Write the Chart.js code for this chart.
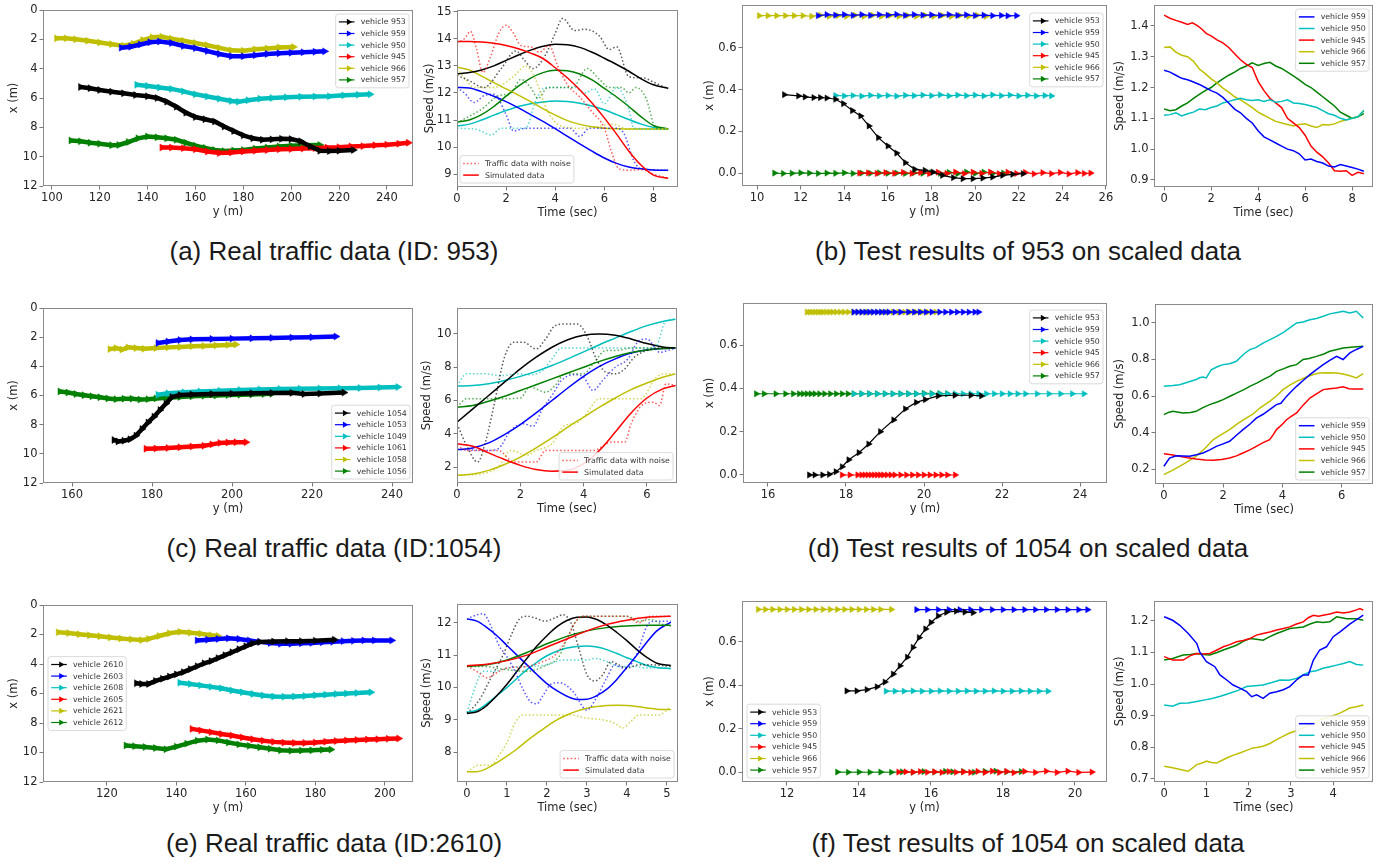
<!DOCTYPE html>
<html>
<head>
<meta charset="utf-8">
<script src="https://cdn.jsdelivr.net/npm/chart.js@4.4.1/dist/chart.umd.min.js"></script>
<style>
body { margin: 0; background: #fff; width: 1382px; height: 863px; position: relative; overflow: hidden; }
canvas { position: absolute; }
.cap { position: absolute; font: 26px "Liberation Sans", Arial, sans-serif; color: #1a1a1a; white-space: nowrap; transform: translateX(-50%); line-height: 30px; }
</style>
</head>
<body>
<div class="cap" style="left:334px;top:236px">(a) Real traffic data (ID: 953)</div>
<div class="cap" style="left:1028px;top:236px">(b) Test results of 953 on scaled data</div>
<div class="cap" style="left:334px;top:533px">(c) Real traffic data (ID:1054)</div>
<div class="cap" style="left:1028px;top:533px">(d) Test results of 1054 on scaled data</div>
<div class="cap" style="left:334px;top:828px">(e) Real traffic data (ID:2610)</div>
<div class="cap" style="left:1028px;top:828px">(f) Test results of 1054 on scaled data</div>
<script>
// ---- (a) trajectories, [y, x]
const trA953 = [[112,5.25],[116,5.33],[120,5.45],[125,5.57],[130,5.68],[135,5.8],[140,5.88],[144,6.0],[148,6.25],[152,6.6],[156,7.0],[160,7.3],[164,7.45],[168,7.6],[172,7.95],[176,8.25],[180,8.55],[184,8.75],[188,8.85],[192,8.82],[196,8.78],[200,8.8],[204,8.95],[208,9.3],[212,9.6],[216,9.62],[220,9.6],[226,9.55]];
const trA959 = [[129,2.57],[133,2.5],[137,2.35],[141,2.2],[145,2.15],[150,2.25],[155,2.45],[160,2.6],[165,2.8],[170,3.0],[175,3.15],[180,3.15],[185,3.08],[190,3.0],[195,2.95],[200,2.92],[205,2.88],[210,2.85],[214,2.82]];
const trA950 = [[135.5,5.1],[140,5.18],[145,5.28],[150,5.38],[155,5.55],[160,5.75],[165,5.9],[170,6.05],[175,6.2],[178,6.25],[182,6.15],[187,6.05],[192,6.0],[198,5.95],[204,5.92],[210,5.9],[216,5.88],[222,5.82],[228,5.78],[233,5.75]];
const trA945 = [[146,9.38],[150,9.38],[155,9.42],[160,9.5],[165,9.65],[170,9.75],[175,9.72],[180,9.65],[185,9.6],[190,9.55],[195,9.5],[200,9.48],[205,9.45],[210,9.42],[215,9.38],[220,9.35],[225,9.3],[230,9.28],[235,9.22],[240,9.18],[245,9.12],[249,9.05]];
const trA966 = [[102,1.93],[106,1.93],[110,2.0],[115,2.1],[120,2.22],[125,2.33],[130,2.43],[134,2.3],[138,2.05],[142,1.85],[146,1.82],[150,1.95],[155,2.1],[160,2.25],[165,2.4],[170,2.58],[175,2.75],[180,2.78],[185,2.68],[190,2.62],[195,2.55],[201,2.52]];
const trA957 = [[108,8.9],[112,8.95],[116,9.05],[120,9.12],[125,9.22],[128,9.2],[132,9.0],[136,8.75],[140,8.62],[144,8.68],[148,8.75],[152,8.85],[156,9.05],[160,9.25],[164,9.4],[168,9.55],[172,9.62],[176,9.58],[180,9.55],[185,9.45],[190,9.38],[195,9.3],[200,9.25],[205,9.22],[212,9.2]];

// ---- (a) speed, [t, v]
const simA_k = [[0,12.7],[0.5,12.75],[1,12.85],[1.5,13.0],[2,13.2],[2.5,13.4],[3,13.58],[3.5,13.72],[4,13.8],[4.5,13.78],[5,13.68],[5.5,13.5],[6,13.28],[6.5,13.05],[7,12.8],[7.5,12.52],[8,12.3],[8.6,12.17]];
const simA_r = [[0,13.9],[0.5,13.9],[1,13.88],[1.5,13.83],[2,13.75],[2.5,13.63],[3,13.47],[3.5,13.27],[4,12.93],[4.5,12.55],[5,12.12],[5.5,11.63],[6,11.08],[6.5,10.48],[7,9.85],[7.5,9.33],[8,8.97],[8.6,8.85]];
const simA_y = [[0,12.95],[0.5,12.85],[1,12.62],[1.5,12.38],[2,12.15],[2.5,11.92],[3,11.68],[3.5,11.42],[4,11.18],[4.5,10.98],[5,10.84],[5.5,10.75],[6,10.7],[6.5,10.68],[7,10.67],[8.6,10.67]];
const simA_g = [[0,10.92],[0.5,11.0],[1,11.2],[1.5,11.5],[2,11.88],[2.5,12.25],[3,12.55],[3.5,12.75],[4,12.84],[4.5,12.82],[5,12.7],[5.5,12.48],[6,12.17],[6.5,11.85],[7,11.5],[7.5,11.12],[8,10.8],[8.6,10.67]];
const simA_b = [[0,12.2],[0.5,12.18],[1,12.05],[1.5,11.88],[2,11.68],[2.5,11.45],[3,11.2],[3.5,10.95],[4,10.68],[4.5,10.4],[5,10.12],[5.5,9.85],[6,9.6],[6.5,9.4],[7,9.27],[7.5,9.2],[8,9.16],[8.6,9.15]];
const simA_c = [[0,10.78],[0.5,10.85],[1,11.0],[1.5,11.18],[2,11.35],[2.5,11.5],[3,11.6],[3.5,11.67],[4,11.7],[4.5,11.68],[5,11.62],[5.5,11.52],[6,11.38],[6.5,11.2],[7,11.02],[7.5,10.85],[8,10.73],[8.6,10.67]];
const noiseA_r = [[0,13.85],[0.3,14.0],[0.55,14.27],[0.8,13.6],[1.05,12.75],[1.35,13.3],[1.7,14.2],[2.0,14.5],[2.3,14.2],[2.6,13.75],[3.0,13.7],[3.35,13.5],[3.75,13.75],[4.1,13.0],[4.5,12.3],[5.0,11.85],[5.5,11.3],[6.0,10.7],[6.3,9.8],[6.6,9.2],[7.0,9.15],[7.5,9.17],[8.0,9.0],[8.6,8.85]];
const noiseA_k = [[0,12.65],[0.5,12.45],[1.1,12.2],[1.8,12.9],[2.4,13.55],[2.75,13.2],[3.1,12.9],[3.6,13.4],[4.0,14.2],[4.3,14.75],[4.8,14.3],[5.2,14.35],[5.8,14.1],[6.2,13.6],[6.5,13.7],[7.0,12.6],[7.6,12.55],[8.0,12.4],[8.6,12.15]];
const noiseA_y = [[0,12.9],[0.35,12.5],[0.7,12.2],[1.5,12.2],[2.3,12.6],[2.8,13.0],[3.2,12.5],[3.7,11.3],[4.2,10.8],[5.0,10.7],[5.7,10.75],[6.3,10.85],[7.0,10.67],[8.6,10.67]];
const noiseA_g = [[0,10.9],[1.0,11.4],[1.7,11.9],[2.2,12.0],[2.6,12.5],[3.0,12.2],[3.3,11.8],[3.7,12.2],[4.7,12.2],[5.3,12.9],[5.8,12.5],[6.2,12.2],[6.7,12.2],[7.0,12.0],[7.3,12.2],[7.7,11.8],[8.1,10.7],[8.6,10.67]];
const noiseA_b = [[0,12.2],[0.3,12.0],[0.7,11.65],[1.1,11.9],[1.5,11.95],[2.0,11.2],[2.3,10.6],[2.8,10.7],[4.6,10.7],[5.0,10.4],[5.4,10.7],[6.5,10.7],[6.8,10.5],[7.2,9.5],[7.5,9.2],[8.6,9.15]];
const noiseA_c = [[0,10.7],[0.8,10.65],[1.4,10.45],[1.8,10.7],[2.8,10.7],[3.2,11.7],[3.6,12.2],[4.8,12.2],[5.2,12.0],[5.6,12.15],[6.0,11.6],[6.5,12.2],[7.0,11.4],[7.2,10.7],[8.6,10.67]];

// ---- (b) trajectories
const trB953 = [[11.25,0.376],[11.9,0.37],[12.2,0.365],[12.6,0.362],[12.9,0.362],[13.2,0.36],[13.6,0.354],[13.96,0.333],[14.37,0.3],[14.75,0.274],[15.13,0.226],[15.56,0.17],[16.0,0.13],[16.4,0.096],[16.8,0.05],[17.23,0.018],[17.7,0.013],[18.07,0.005],[18.5,-0.011],[19.0,-0.022],[19.44,-0.027],[19.9,-0.027],[20.35,-0.024],[20.8,-0.019],[21.26,-0.011],[21.72,-0.006],[22.2,-0.003]];
const trB959 = [[12.8,0.755],[13.2,0.76],[13.6,0.757],[14.0,0.76],[14.4,0.756],[14.8,0.76],[15.2,0.756],[15.6,0.76],[16.0,0.757],[16.4,0.761],[16.8,0.756],[17.2,0.76],[17.6,0.757],[18.0,0.759],[18.4,0.756],[18.8,0.76],[19.2,0.756],[19.6,0.759],[20.0,0.755],[20.4,0.757],[20.8,0.755],[21.2,0.756],[21.5,0.754],[21.9,0.755]];
const trB950 = [[13.6,0.372],[14.0,0.37],[14.4,0.372],[14.8,0.369],[15.2,0.373],[15.6,0.37],[16.0,0.372],[16.4,0.369],[16.8,0.373],[17.2,0.371],[17.6,0.374],[18.0,0.371],[18.4,0.375],[18.8,0.37],[19.2,0.374],[19.6,0.371],[20.0,0.374],[20.4,0.37],[20.8,0.375],[21.2,0.371],[21.6,0.374],[22.0,0.37],[22.4,0.373],[22.8,0.37],[23.2,0.372],[23.5,0.37]];
const trB945 = [[14.7,0.0],[15.1,0.001],[15.5,-0.002],[15.9,0.002],[16.3,-0.001],[16.7,0.003],[17.1,-0.002],[17.5,0.003],[17.9,-0.003],[18.3,0.004],[18.7,-0.002],[19.1,0.005],[19.5,-0.003],[19.9,0.004],[20.3,-0.002],[20.7,0.005],[21.1,-0.003],[21.5,0.004],[21.9,-0.002],[22.3,0.003],[22.7,-0.004],[23.1,0.002],[23.5,-0.003],[23.9,0.003],[24.3,-0.004],[24.7,0.002],[25.0,-0.002],[25.3,0.0]];
const trB966 = [[10.1,0.755],[10.5,0.755],[10.9,0.755],[11.3,0.755],[11.7,0.755],[12.1,0.755],[12.5,0.752],[12.9,0.757],[13.3,0.752],[13.7,0.755],[14.1,0.752],[14.5,0.757],[14.9,0.752],[15.3,0.757],[15.7,0.752],[16.1,0.756],[16.5,0.752],[16.9,0.756],[17.3,0.752],[17.7,0.757],[18.1,0.752],[18.5,0.756],[18.9,0.751],[19.3,0.756],[19.7,0.752],[20.1,0.757],[20.5,0.752]];
const trB957 = [[10.8,0.0],[11.2,-0.002],[11.6,-0.001],[12.0,0.001],[12.4,0.0],[12.8,-0.002],[13.2,0.0],[13.6,-0.001],[14.0,0.001],[14.4,-0.002],[14.8,0.0],[15.2,-0.001],[15.6,0.001],[16.0,-0.001],[16.4,0.0],[16.8,-0.002],[17.2,0.001],[17.6,-0.001],[18.0,0.002],[18.4,-0.002],[18.8,0.003],[19.2,-0.003],[19.6,0.005],[20.0,-0.002],[20.4,0.004],[20.8,-0.002],[21.3,0.0]];

// ---- (b) speed
const spB959 = [[0,1.256],[0.25,1.25],[0.5,1.24],[0.75,1.23],[1.0,1.225],[1.25,1.218],[1.5,1.21],[1.75,1.2],[2.0,1.19],[2.25,1.182],[2.5,1.168],[2.75,1.15],[3.0,1.13],[3.25,1.118],[3.5,1.1],[3.75,1.085],[4.0,1.06],[4.25,1.04],[4.5,1.03],[4.75,1.02],[5.0,1.01],[5.25,1.0],[5.5,0.995],[5.75,0.985],[6.0,0.965],[6.25,0.968],[6.5,0.96],[6.75,0.955],[7.0,0.945],[7.25,0.942],[7.5,0.95],[7.75,0.945],[8.0,0.94],[8.25,0.935],[8.5,0.928]];
const spB950 = [[0,1.11],[0.25,1.112],[0.5,1.118],[0.75,1.108],[1.0,1.115],[1.25,1.12],[1.5,1.13],[1.75,1.128],[2.0,1.135],[2.25,1.14],[2.5,1.15],[2.75,1.155],[3.0,1.16],[3.25,1.165],[3.5,1.16],[3.75,1.158],[4.0,1.16],[4.25,1.155],[4.5,1.16],[4.75,1.152],[5.0,1.155],[5.25,1.16],[5.5,1.15],[5.75,1.148],[6.0,1.145],[6.25,1.14],[6.5,1.135],[6.75,1.125],[7.0,1.115],[7.25,1.11],[7.5,1.1],[7.75,1.095],[8.0,1.1],[8.25,1.105],[8.5,1.125]];
const spB945 = [[0,1.435],[0.25,1.425],[0.5,1.418],[0.75,1.412],[1.0,1.405],[1.2,1.41],[1.4,1.402],[1.6,1.39],[1.8,1.375],[2.0,1.368],[2.25,1.355],[2.5,1.345],[2.75,1.33],[3.0,1.31],[3.25,1.29],[3.5,1.275],[3.75,1.265],[4.0,1.22],[4.25,1.19],[4.5,1.165],[4.75,1.15],[5.0,1.135],[5.25,1.1],[5.5,1.085],[5.75,1.07],[6.0,1.045],[6.25,1.01],[6.5,0.99],[6.75,0.975],[7.0,0.955],[7.25,0.93],[7.5,0.928],[7.75,0.93],[8.0,0.915],[8.25,0.925],[8.5,0.92]];
const spB966 = [[0,1.33],[0.25,1.332],[0.5,1.315],[0.75,1.305],[1.0,1.3],[1.25,1.285],[1.5,1.26],[1.75,1.245],[2.0,1.228],[2.25,1.215],[2.5,1.198],[2.75,1.185],[3.0,1.17],[3.25,1.16],[3.5,1.148],[3.75,1.135],[4.0,1.12],[4.25,1.11],[4.5,1.1],[4.75,1.09],[5.0,1.085],[5.25,1.08],[5.5,1.075],[5.75,1.08],[6.0,1.082],[6.25,1.075],[6.5,1.07],[6.75,1.08],[7.0,1.078],[7.25,1.082],[7.5,1.09],[7.75,1.095],[8.0,1.1],[8.25,1.105],[8.5,1.125]];
const spB957 = [[0,1.13],[0.25,1.125],[0.5,1.128],[0.75,1.14],[1.0,1.15],[1.25,1.165],[1.5,1.178],[1.75,1.19],[2.0,1.2],[2.25,1.215],[2.5,1.228],[2.75,1.24],[3.0,1.25],[3.25,1.262],[3.5,1.27],[3.75,1.28],[4.0,1.272],[4.25,1.278],[4.5,1.282],[4.75,1.27],[5.0,1.262],[5.25,1.25],[5.5,1.238],[5.75,1.225],[6.0,1.21],[6.25,1.2],[6.5,1.185],[6.75,1.17],[7.0,1.155],[7.25,1.14],[7.5,1.12],[7.75,1.11],[8.0,1.1],[8.25,1.105],[8.5,1.115]];

// ---- (c) trajectories
const trC1054 = [[170.5,9.05],[171.5,9.15],[173,9.1],[174.5,9.0],[176,8.75],[177.5,8.3],[179,7.85],[180.5,7.45],[182,7.0],[183.5,6.55],[185,6.1],[187,5.97],[190,5.93],[195,5.9],[200,5.88],[205,5.85],[210,5.83],[215,5.82],[218,5.9],[222,5.87],[228,5.8]];
const trC1053 = [[181.5,2.4],[184,2.3],[187,2.2],[190,2.15],[195,2.12],[200,2.1],[205,2.08],[210,2.05],[215,2.03],[220,2.0],[226,1.95]];
const trC1049 = [[181.5,5.95],[184,5.85],[188,5.78],[192,5.72],[197,5.68],[202,5.62],[207,5.58],[212,5.55],[217,5.53],[222,5.52],[227,5.5],[232,5.48],[237,5.45],[241.5,5.42]];
const trC1061 = [[178.5,9.65],[181,9.63],[184,9.6],[187,9.55],[190,9.5],[193,9.45],[195,9.35],[197,9.25],[199,9.22],[201,9.2],[203.5,9.2]];
const trC1058 = [[169.5,2.82],[171,2.75],[172.5,2.85],[174,2.7],[176,2.75],[178,2.8],[181,2.75],[184,2.7],[187,2.68],[190,2.62],[193,2.6],[196,2.57],[199,2.53],[201,2.5]];
const trC1056 = [[157,5.72],[159,5.8],[161,5.9],[163,5.98],[165,6.05],[167,6.12],[169,6.2],[171,6.25],[173,6.22],[175,6.22],[177,6.28],[179,6.25],[181,6.2],[184,6.15],[187,6.1],[190,6.06],[193,6.02],[196,6.0],[199,5.97],[202,5.95],[205,5.93],[208,5.9],[210,5.88]];

// ---- (c) speed
const simC_k = [[0,4.7],[0.5,5.5],[1,6.3],[1.5,7.1],[2,7.9],[2.5,8.6],[3,9.2],[3.5,9.65],[4,9.92],[4.5,10.0],[5,9.92],[5.5,9.7],[6,9.42],[6.5,9.22],[6.9,9.15]];
const simC_r = [[0,3.4],[0.5,3.25],[1,2.85],[1.5,2.45],[2,2.1],[2.5,1.85],[3,1.75],[3.5,1.8],[4,2.2],[4.5,3.0],[5,4.1],[5.5,5.25],[6,6.15],[6.5,6.7],[6.9,6.9]];
const simC_y = [[0,1.5],[0.5,1.58],[1,1.8],[1.5,2.15],[2,2.6],[2.5,3.15],[3,3.75],[3.5,4.4],[4,5.0],[4.5,5.6],[5,6.15],[5.5,6.65],[6,7.05],[6.5,7.4],[6.9,7.6]];
const simC_g = [[0,5.6],[0.5,5.7],[1,5.95],[1.5,6.25],[2,6.6],[2.5,6.95],[3,7.3],[3.5,7.65],[4,8.0],[4.5,8.35],[5,8.65],[5.5,8.88],[6,9.03],[6.5,9.12],[6.9,9.15]];
const simC_b = [[0,3.05],[0.5,3.15],[1,3.45],[1.5,3.95],[2,4.55],[2.5,5.25],[3,6.0],[3.5,6.75],[4,7.45],[4.5,8.05],[5,8.5],[5.5,8.85],[6,9.05],[6.5,9.13],[6.9,9.15]];
const simC_c = [[0,6.87],[0.5,6.9],[1,7.0],[1.5,7.2],[2,7.45],[2.5,7.75],[3,8.1],[3.5,8.5],[4,8.92],[4.5,9.35],[5,9.75],[5.5,10.15],[6,10.5],[6.5,10.75],[6.9,10.88]];
const noiseC_r = [[0,3.3],[0.3,3.0],[1.3,3.0],[1.8,2.3],[2.5,2.3],[2.8,3.0],[4.3,3.0],[4.9,3.5],[5.3,3.5],[5.5,4.6],[5.9,5.8],[6.2,5.9],[6.4,5.7],[6.6,7.0],[6.9,6.9]];
const noiseC_k = [[0,4.6],[0.3,3.3],[0.65,2.3],[0.9,3.5],[1.2,6.0],[1.5,8.6],[1.8,9.5],[2.1,9.5],[2.5,9.1],[2.8,9.7],[3.1,10.5],[3.5,10.6],[3.8,10.6],[4.1,9.9],[4.4,8.5],[4.7,7.7],[5.0,7.6],[5.3,7.9],[5.6,8.6],[6.0,9.0],[6.5,9.15],[6.9,9.15]];
const noiseC_y = [[0,1.5],[0.8,1.6],[1.3,2.0],[1.7,3.0],[2.2,2.7],[2.5,3.0],[3.0,3.4],[3.4,4.5],[3.7,4.6],[4.0,5.0],[4.5,6.1],[5.0,6.1],[5.8,6.1],[6.3,7.4],[6.6,7.6],[6.9,7.6]];
const noiseC_g = [[0,5.6],[0.3,6.1],[1.3,6.1],[2.0,6.15],[2.3,6.8],[2.8,6.5],[3.1,6.9],[3.4,7.6],[4.0,7.6],[4.3,8.2],[4.7,9.0],[5.0,9.0],[5.5,9.15],[6.9,9.15]];
const noiseC_b = [[0,3.05],[1.0,3.0],[1.3,3.1],[1.7,4.2],[2.1,4.6],[2.4,4.45],[2.7,5.5],[3.0,6.3],[3.3,7.2],[3.7,7.55],[4.0,7.4],[4.3,6.6],[4.6,7.2],[5.0,8.0],[5.4,8.5],[5.7,9.5],[6.0,9.7],[6.4,8.9],[6.9,9.15]];
const noiseC_c = [[0,6.87],[0.3,7.6],[0.9,7.6],[1.4,7.5],[1.9,7.6],[2.3,7.55],[2.7,7.8],[3.0,8.5],[3.3,9.15],[6.0,9.15],[6.3,9.3],[6.6,10.8],[6.9,10.88]];

// ---- (d) trajectories
const trD953 = [[17.06,0.0],[17.2,0.0],[17.4,0.0],[17.57,0.003],[17.74,0.015],[17.9,0.038],[18.07,0.07],[18.33,0.103],[18.58,0.143],[18.88,0.2],[19.22,0.254],[19.52,0.305],[19.8,0.335],[20.03,0.348],[20.36,0.365],[20.79,0.368],[21.2,0.368],[21.47,0.365]];
const trD959 = [[18.2,0.752],[18.3,0.752],[18.4,0.752],[18.5,0.752],[18.6,0.752],[18.7,0.752],[18.8,0.752],[18.9,0.752],[19.0,0.752],[19.1,0.752],[19.25,0.752],[19.4,0.752],[19.6,0.752],[19.75,0.752],[19.9,0.752],[20.05,0.752],[20.2,0.752],[20.4,0.752],[20.55,0.752],[20.7,0.752],[20.85,0.752],[21.0,0.752],[21.15,0.752],[21.3,0.752],[21.4,0.752]];
const trD950 = [[18.2,0.375],[18.4,0.375],[18.6,0.375],[18.8,0.375],[19.0,0.375],[19.2,0.375],[19.4,0.375],[19.6,0.375],[19.8,0.375],[20.0,0.375],[20.2,0.375],[20.4,0.375],[20.6,0.375],[20.8,0.375],[21.0,0.375],[21.2,0.375],[21.4,0.375],[21.6,0.375],[21.8,0.375],[22.0,0.375],[22.2,0.375],[22.4,0.375],[22.6,0.375],[22.9,0.375],[23.2,0.375],[23.5,0.375],[23.8,0.375],[24.1,0.375]];
const trD945 = [[17.9,0.0],[18.1,0.0],[18.3,0.0],[18.4,0.0],[18.48,0.0],[18.56,0.0],[18.64,0.0],[18.72,0.0],[18.8,0.0],[18.88,0.0],[18.96,0.0],[19.05,0.0],[19.15,0.0],[19.25,0.0],[19.4,0.0],[19.55,0.0],[19.7,0.0],[19.85,0.0],[20.0,0.0],[20.15,0.0],[20.3,0.0],[20.45,0.0],[20.6,0.0],[20.8,0.0]];
const trD966 = [[17.0,0.752],[17.07,0.752],[17.14,0.752],[17.21,0.752],[17.28,0.752],[17.35,0.752],[17.42,0.752],[17.5,0.752],[17.58,0.752],[17.66,0.752],[17.75,0.752],[17.85,0.752],[17.95,0.752],[18.06,0.752],[18.18,0.752],[18.3,0.752],[18.42,0.752],[18.55,0.752],[18.68,0.752],[18.8,0.752],[18.93,0.752],[19.07,0.752],[19.2,0.752],[19.35,0.752],[19.5,0.752],[19.65,0.752],[19.8,0.752],[19.95,0.752],[20.1,0.752],[20.3,0.752]];
const trD957 = [[15.7,0.375],[15.9,0.375],[16.2,0.375],[16.45,0.375],[16.65,0.375],[16.8,0.375],[16.9,0.375],[17.0,0.375],[17.1,0.375],[17.2,0.375],[17.32,0.375],[17.45,0.375],[17.6,0.375],[17.75,0.375],[17.9,0.375],[18.05,0.375],[18.2,0.375],[18.4,0.375],[18.6,0.375],[18.8,0.375],[19.0,0.375],[19.2,0.375],[19.4,0.375],[19.6,0.375],[19.8,0.375],[20.0,0.377],[20.2,0.376],[20.4,0.376],[20.6,0.375]];

// ---- (d) speed
const spD959 = [[0,0.215],[0.19,0.26],[0.42,0.273],[0.87,0.27],[1.1,0.278],[1.32,0.288],[1.55,0.305],[1.77,0.324],[2.0,0.338],[2.22,0.352],[2.45,0.385],[2.67,0.416],[2.9,0.445],[3.12,0.479],[3.35,0.5],[3.57,0.525],[3.8,0.553],[3.95,0.56],[4.14,0.598],[4.3,0.625],[4.48,0.653],[4.7,0.685],[4.93,0.717],[5.15,0.745],[5.38,0.772],[5.6,0.795],[5.83,0.817],[6.05,0.8],[6.28,0.836],[6.5,0.855],[6.73,0.872]];
const spD950 = [[0,0.653],[0.3,0.657],[0.53,0.662],[0.8,0.675],[1.09,0.69],[1.2,0.7],[1.32,0.704],[1.43,0.699],[1.6,0.744],[1.8,0.76],[2.0,0.772],[2.22,0.777],[2.45,0.79],[2.7,0.83],[2.9,0.854],[3.1,0.865],[3.35,0.89],[3.6,0.91],[3.8,0.927],[4.05,0.95],[4.25,0.973],[4.48,1.0],[4.7,1.005],[4.93,1.018],[5.15,1.025],[5.38,1.037],[5.6,1.05],[5.85,1.058],[6.05,1.064],[6.28,1.055],[6.5,1.064],[6.73,1.027]];
const spD945 = [[0,0.284],[0.25,0.278],[0.53,0.27],[0.8,0.262],[1.09,0.255],[1.4,0.25],[1.66,0.248],[1.95,0.252],[2.22,0.26],[2.45,0.272],[2.67,0.288],[2.9,0.305],[3.12,0.324],[3.35,0.345],[3.57,0.361],[3.7,0.39],[3.8,0.416],[4.0,0.445],[4.14,0.47],[4.3,0.488],[4.48,0.507],[4.7,0.55],[4.93,0.589],[5.15,0.612],[5.38,0.635],[5.6,0.64],[5.83,0.644],[6.05,0.65],[6.25,0.64],[6.4,0.638],[6.73,0.638]];
const spD966 = [[0,0.169],[0.25,0.19],[0.53,0.215],[0.8,0.24],[1.09,0.27],[1.4,0.315],[1.66,0.36],[1.95,0.39],[2.22,0.416],[2.5,0.45],[2.78,0.479],[3.0,0.5],[3.24,0.534],[3.57,0.571],[3.8,0.6],[4.02,0.635],[4.25,0.66],[4.48,0.68],[4.81,0.704],[5.05,0.718],[5.26,0.726],[5.55,0.728],[5.83,0.726],[6.05,0.72],[6.28,0.711],[6.5,0.699],[6.73,0.722]];
const spD957 = [[0,0.498],[0.15,0.51],[0.3,0.516],[0.64,0.507],[0.9,0.51],[1.09,0.516],[1.3,0.535],[1.54,0.553],[1.8,0.567],[2.0,0.58],[2.25,0.6],[2.45,0.616],[2.7,0.635],[2.9,0.653],[3.15,0.672],[3.35,0.69],[3.6,0.71],[3.8,0.735],[4.05,0.75],[4.25,0.763],[4.48,0.772],[4.7,0.8],[4.9,0.805],[5.15,0.817],[5.4,0.83],[5.6,0.845],[5.85,0.855],[6.05,0.863],[6.4,0.868],[6.73,0.872]];

// ---- (e) trajectories
const trE2610 = [[128.5,5.3],[130,5.35],[132,5.35],[134,5.15],[136,5.0],[138,4.85],[140,4.7],[142,4.55],[144,4.35],[146,4.15],[148,3.95],[150,3.8],[152,3.6],[154,3.4],[156,3.2],[158,3.0],[160,2.8],[162,2.6],[164,2.5],[168,2.48],[172,2.45],[176,2.45],[180,2.42],[185.5,2.35]];
const trE2603 = [[146,2.4],[149,2.35],[152,2.3],[155,2.26],[158,2.3],[161,2.4],[164,2.5],[167,2.58],[170,2.63],[173,2.63],[176,2.6],[179,2.57],[182,2.53],[185,2.5],[188,2.45],[191,2.43],[194,2.4],[197,2.4],[202,2.4]];
const trE2608 = [[141,5.27],[144,5.35],[147,5.45],[150,5.55],[153,5.65],[156,5.8],[159,5.92],[162,6.03],[165,6.13],[168,6.2],[171,6.22],[174,6.2],[177,6.17],[180,6.12],[183,6.08],[186,6.03],[189,6.0],[192,5.97],[196,5.92]];
const trE2605 = [[144.5,8.4],[147,8.5],[150,8.62],[153,8.75],[156,8.85],[159,8.98],[162,9.1],[165,9.2],[168,9.28],[171,9.33],[174,9.35],[177,9.35],[180,9.32],[183,9.27],[186,9.22],[189,9.18],[192,9.15],[195,9.12],[198,9.1],[201,9.07],[204,9.05]];
const trE2621 = [[106,1.85],[109,1.9],[112,1.98],[115,2.05],[118,2.12],[121,2.2],[124,2.27],[127,2.33],[130,2.38],[132,2.3],[135,2.1],[138,1.92],[141,1.82],[144,1.88],[147,1.95],[150,2.05],[152,2.1]];
const trE2612 = [[125.5,9.52],[128,9.57],[131,9.63],[134,9.7],[137,9.78],[140,9.6],[143,9.4],[146,9.2],[149,9.12],[152,9.18],[155,9.32],[158,9.45],[161,9.55],[164,9.65],[167,9.75],[170,9.85],[173,9.88],[176,9.87],[179,9.85],[182,9.82],[184.5,9.8]];

// ---- (e) speed
const simE_b = [[0,12.12],[0.25,12.05],[0.5,11.85],[0.75,11.6],[1.0,11.3],[1.25,11.0],[1.5,10.7],[1.75,10.4],[2.0,10.12],[2.25,9.9],[2.5,9.73],[2.75,9.63],[3.0,9.64],[3.25,9.75],[3.5,9.95],[3.75,10.25],[4.0,10.62],[4.25,11.0],[4.5,11.4],[4.75,11.75],[5.1,12.02]];
const simE_k = [[0,9.2],[0.25,9.25],[0.5,9.45],[0.75,9.75],[1.0,10.1],[1.25,10.5],[1.5,10.9],[1.75,11.28],[2.0,11.6],[2.25,11.88],[2.5,12.07],[2.75,12.17],[3.0,12.18],[3.25,12.1],[3.5,11.93],[3.75,11.7],[4.0,11.45],[4.25,11.17],[4.5,10.93],[4.75,10.75],[5.1,10.68]];
const simE_c = [[0,9.23],[0.25,9.3],[0.5,9.5],[0.75,9.75],[1.0,10.0],[1.25,10.28],[1.5,10.55],[1.75,10.78],[2.0,10.98],[2.25,11.12],[2.5,11.22],[2.75,11.27],[3.0,11.28],[3.25,11.25],[3.5,11.17],[3.75,11.05],[4.0,10.92],[4.25,10.8],[4.5,10.68],[4.75,10.62],[5.1,10.58]];
const simE_g = [[0,10.65],[0.5,10.7],[1.0,10.85],[1.5,11.08],[2.0,11.35],[2.5,11.58],[3.0,11.75],[3.5,11.85],[4.0,11.9],[4.5,11.92],[5.1,11.92]];
const simE_r = [[0,10.67],[0.5,10.72],[1.0,10.83],[1.5,11.0],[2.0,11.25],[2.5,11.5],[3.0,11.75],[3.5,11.95],[4.0,12.08],[4.5,12.17],[5.1,12.2]];
const simE_y = [[0,7.4],[0.25,7.4],[0.5,7.5],[0.75,7.68],[1.0,7.88],[1.25,8.1],[1.5,8.35],[1.75,8.58],[2.0,8.8],[2.25,9.0],[2.5,9.15],[2.75,9.27],[3.0,9.36],[3.25,9.41],[3.5,9.44],[3.75,9.45],[4.0,9.44],[4.25,9.41],[4.5,9.37],[4.75,9.33],[5.1,9.32]];
const noiseE_b = [[0,12.1],[0.15,12.2],[0.4,12.28],[0.6,11.9],[0.8,11.3],[1.0,10.95],[1.2,10.5],[1.4,9.95],[1.6,9.55],[1.75,9.5],[1.9,9.75],[2.1,10.1],[2.3,10.15],[2.5,10.05],[2.7,9.8],[2.9,9.4],[3.0,9.3],[3.2,9.6],[3.5,10.3],[3.7,10.7],[3.9,10.6],[4.1,10.7],[4.3,11.2],[4.5,11.9],[4.7,12.05],[5.1,12.05]];
const noiseE_k = [[0,9.2],[0.3,9.6],[0.6,10.3],[0.9,11.0],[1.1,11.6],[1.3,12.1],[1.5,12.2],[1.7,12.15],[1.95,12.05],[2.2,12.15],[2.4,12.25],[2.6,12.0],[2.8,11.2],[3.0,10.4],[3.2,10.2],[3.4,10.4],[3.6,10.8],[3.8,10.7],[4.0,10.6],[4.3,10.7],[4.6,10.7],[5.1,10.65]];
const noiseE_c = [[0,9.23],[0.2,10.0],[0.4,10.5],[0.7,10.5],[1.0,10.6],[1.5,10.65],[2.0,10.7],[2.4,10.85],[2.7,10.85],[3.0,10.85],[3.2,10.9],[3.5,10.8],[3.8,10.65],[4.2,10.65],[4.5,10.6],[5.1,10.6]];
const noiseE_g = [[0,10.65],[0.4,10.65],[1.0,10.55],[1.5,10.5],[2.0,10.7],[2.3,10.95],[2.5,11.5],[2.7,12.0],[2.9,12.2],[3.5,12.2],[4.0,12.2],[4.3,12.05],[4.6,12.1],[4.9,11.95],[5.1,11.9]];
const noiseE_r = [[0,10.67],[0.3,10.45],[0.5,10.3],[0.8,10.5],[1.0,10.6],[1.5,10.65],[1.9,10.8],[2.2,11.0],[2.5,11.5],[2.7,12.0],[2.9,12.2],[3.5,12.2],[4.0,12.2],[4.3,12.0],[4.6,12.2],[5.1,12.2]];
const noiseE_y = [[0,7.4],[0.3,7.6],[0.6,7.6],[0.8,7.9],[1.0,8.3],[1.2,8.9],[1.4,9.15],[2.0,9.15],[2.6,9.15],[3.0,9.05],[3.4,9.0],[3.7,8.9],[3.9,8.75],[4.1,8.95],[4.3,9.15],[4.8,9.15],[5.1,9.4]];

// ---- (f) trajectories
const trF953 = [[13.66,0.374],[13.94,0.374],[14.22,0.38],[14.5,0.393],[14.72,0.415],[14.95,0.452],[15.14,0.49],[15.34,0.53],[15.5,0.575],[15.67,0.62],[15.85,0.66],[16.0,0.69],[16.2,0.72],[16.43,0.737],[16.7,0.742],[16.94,0.738],[17.17,0.735]];
const trF959 = [[15.6,0.749],[15.9,0.749],[16.2,0.749],[16.5,0.749],[16.8,0.749],[17.1,0.749],[17.4,0.749],[17.7,0.749],[18.0,0.749],[18.3,0.749],[18.6,0.749],[18.9,0.749],[19.2,0.749],[19.5,0.749],[19.8,0.749],[20.1,0.749],[20.35,0.749]];
const trF950 = [[14.75,0.373],[15.0,0.373],[15.25,0.373],[15.5,0.374],[15.75,0.373],[16.0,0.373],[16.25,0.374],[16.5,0.373],[16.75,0.373],[17.0,0.374],[17.25,0.373],[17.5,0.373],[17.75,0.374],[18.0,0.373],[18.25,0.373],[18.5,0.374],[18.75,0.373],[19.0,0.373],[19.25,0.373]];
const trF945 = [[15.1,0.0],[15.3,0.001],[15.5,-0.001],[15.7,0.002],[15.9,-0.001],[16.1,0.001],[16.3,-0.002],[16.5,0.002],[16.7,-0.001],[16.9,0.001],[17.1,-0.002],[17.3,0.003],[17.5,-0.002],[17.7,0.004],[17.9,-0.002],[18.1,0.003],[18.3,-0.003],[18.6,0.003],[18.9,-0.002],[19.2,0.004],[19.5,-0.002],[19.8,0.004],[20.1,-0.002],[20.47,0.0]];
const trF966 = [[11.2,0.75],[11.4,0.75],[11.6,0.75],[11.8,0.75],[12.0,0.75],[12.2,0.75],[12.4,0.75],[12.6,0.75],[12.8,0.75],[13.0,0.75],[13.2,0.75],[13.4,0.75],[13.6,0.75],[13.8,0.75],[14.0,0.75],[14.2,0.75],[14.4,0.75],[14.6,0.75],[14.9,0.75]];
const trF957 = [[13.4,0.0],[13.7,-0.001],[14.0,0.0],[14.3,-0.001],[14.6,0.0],[14.9,-0.001],[15.2,0.001],[15.5,-0.001],[15.8,0.002],[16.1,0.0],[16.4,0.003],[16.6,0.001],[16.9,0.002],[17.2,-0.001],[17.5,0.003],[17.8,0.004],[18.1,0.001],[18.5,0.002]];

// ---- (f) speed
const spF959 = [[0,1.213],[0.2,1.202],[0.37,1.186],[0.57,1.16],[0.77,1.129],[0.84,1.102],[1.0,1.071],[1.2,1.055],[1.32,1.029],[1.48,1.013],[1.63,0.997],[1.79,0.987],[1.95,0.976],[2.07,0.96],[2.19,0.966],[2.34,0.955],[2.5,0.971],[2.66,0.976],[2.82,0.982],[2.97,0.992],[3.13,1.013],[3.29,1.029],[3.41,1.029],[3.53,1.076],[3.68,1.108],[3.84,1.118],[4.0,1.15],[4.16,1.165],[4.39,1.19],[4.71,1.218]];
const spF950 = [[0,0.934],[0.2,0.93],[0.37,0.939],[0.57,0.94],[0.77,0.945],[0.97,0.95],[1.16,0.955],[1.35,0.962],[1.55,0.971],[1.75,0.98],[1.95,0.992],[2.15,0.995],[2.34,0.997],[2.55,1.005],[2.74,1.013],[2.95,1.012],[3.13,1.018],[3.3,1.03],[3.45,1.039],[3.6,1.042],[3.76,1.05],[3.92,1.055],[4.08,1.06],[4.24,1.065],[4.39,1.071],[4.55,1.062],[4.71,1.06]];
const spF945 = [[0,1.087],[0.2,1.076],[0.45,1.076],[0.62,1.09],[0.77,1.097],[0.92,1.095],[1.08,1.097],[1.25,1.108],[1.4,1.118],[1.55,1.125],[1.71,1.134],[1.87,1.138],[2.03,1.144],[2.18,1.155],[2.34,1.16],[2.5,1.165],[2.66,1.171],[2.82,1.176],[2.97,1.181],[3.13,1.19],[3.29,1.197],[3.41,1.21],[3.53,1.218],[3.65,1.215],[3.76,1.218],[3.92,1.222],[4.08,1.228],[4.24,1.225],[4.39,1.228],[4.55,1.235],[4.63,1.239],[4.71,1.234]];
const spF966 = [[0,0.74],[0.2,0.735],[0.41,0.729],[0.57,0.724],[0.77,0.745],[0.9,0.75],[1.0,0.756],[1.12,0.752],[1.24,0.75],[1.36,0.758],[1.48,0.766],[1.64,0.775],[1.79,0.782],[1.95,0.79],[2.1,0.798],[2.22,0.8],[2.34,0.803],[2.5,0.812],[2.66,0.824],[2.82,0.835],[2.97,0.845],[3.13,0.852],[3.29,0.861],[3.45,0.87],[3.61,0.882],[3.76,0.89],[3.92,0.897],[4.16,0.908],[4.39,0.924],[4.55,0.928],[4.71,0.934]];
const spF957 = [[0,1.076],[0.2,1.081],[0.45,1.092],[0.62,1.094],[0.77,1.097],[0.92,1.094],[1.08,1.092],[1.25,1.1],[1.4,1.108],[1.55,1.115],[1.71,1.123],[1.87,1.135],[2.03,1.144],[2.18,1.142],[2.34,1.139],[2.5,1.15],[2.66,1.16],[2.82,1.168],[2.97,1.176],[3.13,1.178],[3.29,1.181],[3.45,1.19],[3.61,1.197],[3.76,1.195],[3.92,1.197],[4.08,1.213],[4.2,1.21],[4.32,1.207],[4.55,1.207],[4.71,1.202]];

// ---- tick values
const ticksTrajX_A = [100,120,140,160,180,200,220,240];
const ticksTrajX_C = [160,180,200,220,240];
const ticksTrajX_E = [120,140,160,180,200];
const ticksTrajY = [0,2,4,6,8,10,12];
const ticksScaledX_B = [10,12,14,16,18,20,22,24,26];
const ticksScaledX_D = [16,18,20,22,24];
const ticksScaledX_F = [12,14,16,18,20];
const ticksScaledY = [0,0.2,0.4,0.6];
const ticksSpeedA = [9,10,11,12,13,14,15];
const ticksSpeedC = [2,4,6,8,10];
const ticksSpeedE = [8,9,10,11,12];
const ticksSpeedB = [0.9,1.0,1.1,1.2,1.3,1.4];
const ticksSpeedD = [0.2,0.4,0.6,0.8,1.0];
const ticksSpeedF = [0.7,0.8,0.9,1.0,1.1,1.2];
const ticksTime8 = [0,2,4,6,8];
const ticksTime6 = [0,2,4,6];
const ticksTime5 = [0,1,2,3,4,5];
const ticksTime4 = [0,1,2,3,4];

const K = '#000000', B = '#0000ff', C = '#00bfbf', R = '#ff0000', Y = '#bfbf00', G = '#008000';
const FONT = '"DejaVu Sans", sans-serif';
Chart.defaults.font.family = FONT;
Chart.defaults.color = '#262626';

function fade(hex, a) {
    const n = parseInt(hex.slice(1), 16);
    return `rgba(${n >> 16},${(n >> 8) & 255},${n & 255},${a})`;
}
const xy = arr => arr.map(p => ({ x: p[0], y: p[1] }));

// real-traffic panels have markers packed so tightly they read as a thick band
function traj(label, color, arr, r, lw = 1.2) {
    return {
        label, data: xy(arr), showLine: true, borderColor: color, backgroundColor: color,
        borderWidth: lw, pointStyle: 'triangle', rotation: 90, pointRadius: r, pointHoverRadius: r,
        pointBorderWidth: 0.5, pointBorderColor: color, pointBackgroundColor: color, legendLw: 1.2,
    };
}
function speed(color, arr, opts = {}) {
    return {
        label: opts.label || '', data: xy(arr), showLine: true, pointRadius: 0,
        borderColor: opts.dotted ? fade(color, 0.65) : color, borderWidth: 1.5,
        borderDash: opts.dotted ? [1.5, 2.2] : [],
        cubicInterpolationMode: opts.smooth ? 'monotone' : 'default', tension: 0,
    };
}

const framePlugin = {
    id: 'frame',
    afterDatasetsDraw(chart) {
        const { ctx, chartArea: a } = chart;
        ctx.save();
        ctx.strokeStyle = '#8a8a8a';
        ctx.lineWidth = 1;
        ctx.strokeRect(Math.round(a.left) + 0.5, Math.round(a.top) + 0.5, Math.round(a.width) - 1, Math.round(a.height) - 1);
        ctx.restore();
    },
};

const boxLegend = {
    id: 'boxLegend',
    afterDraw(chart, args, o) {
        if (!o || !o.loc) return;
        const { ctx, chartArea: a } = chart;
        const items = chart.data.datasets.filter(d => d.label);
        ctx.save();
        ctx.font = '7.8px ' + FONT;
        const tw = Math.max(...items.map(d => ctx.measureText(d.label).width));
        const pad = 3.2, hl = 15.6, gap = 6.2, rowH = 11.6, m = 4;
        const w = pad * 2 + hl + gap + tw, h = pad * 2 + (items.length - 1) * rowH + 9.4;
        let x = o.loc[1] === 'r' ? a.right - m - w : a.left + m;
        let y = o.loc[0] === 't' ? a.top + m : o.loc[0] === 'b' ? a.bottom - m - h : (a.top + a.bottom - h) / 2;
        x += o.dx || 0; y += o.dy || 0;
        ctx.beginPath();
        ctx.roundRect(x, y, w, h, 2.5);
        ctx.fillStyle = 'rgba(255,255,255,0.85)';
        ctx.fill();
        ctx.strokeStyle = '#d0d0d0';
        ctx.lineWidth = 0.8;
        ctx.stroke();
        items.forEach((d, i) => {
            const cy = y + pad + 4.7 + i * rowH;
            const x0 = x + pad, x1 = x + pad + hl;
            ctx.strokeStyle = d.borderColor;
            ctx.lineWidth = d.legendLw || d.borderWidth;
            ctx.setLineDash(d.borderDash || []);
            ctx.beginPath(); ctx.moveTo(x0, cy); ctx.lineTo(x1, cy); ctx.stroke();
            ctx.setLineDash([]);
            if (d.pointRadius > 0) {
                const r = 3.6, cx = (x0 + x1) / 2 + 2;
                ctx.fillStyle = d.borderColor;
                ctx.beginPath();
                ctx.moveTo(cx + r, cy);
                ctx.lineTo(cx - r / 2, cy - r * 0.866);
                ctx.lineTo(cx - r / 2, cy + r * 0.866);
                ctx.closePath(); ctx.fill();
            }
            ctx.fillStyle = '#333';
            ctx.textBaseline = 'middle';
            ctx.fillText(d.label, x1 + gap, cy + 0.5);
        });
        ctx.restore();
    },
};

function panel(rect, yW, cfg) {
    const padT = 12, padR = 24, xH = 33;
    const cv = document.createElement('canvas');
    const W = yW + rect[2] + padR, H = padT + rect[3] + xH;
    cv.width = W; cv.height = H;
    cv.style.left = (rect[0] - yW) + 'px';
    cv.style.top = (rect[1] - padT) + 'px';
    cv.style.width = W + 'px';
    cv.style.height = H + 'px';
    document.body.appendChild(cv);
    const axis = (r, ticks, dec, title, key, val, rev) => ({
        type: 'linear', min: r[0], max: r[1], reverse: !!rev,
        afterBuildTicks: s => { s.ticks = ticks.map(v => ({ value: v })); },
        afterFit: s => { s[key] = val; },
        ticks: { font: { size: 11.5 }, padding: 2, maxRotation: 0, autoSkip: false, callback: v => v.toFixed(dec) },
        grid: { drawOnChartArea: false, drawTicks: true, tickLength: 3.5, color: '#555', lineWidth: 0.8 },
        border: { display: false },
        title: { display: true, text: title, font: { size: 11.5 }, padding: 0 },
    });
    return new Chart(cv, {
        type: 'scatter',
        data: { datasets: cfg.datasets },
        options: {
            responsive: false, animation: false, devicePixelRatio: 1, events: [],
            layout: { padding: { top: padT, right: padR, left: 0, bottom: 0 } },
            plugins: { legend: { display: false }, tooltip: { enabled: false }, boxLegend: cfg.legend },
            scales: {
                x: axis(cfg.xr, cfg.xt, cfg.xd || 0, cfg.xTitle, 'height', xH),
                y: axis(cfg.yr, cfg.yt, cfg.yd || 0, cfg.yTitle, 'width', yW, cfg.rev),
            },
        },
        plugins: [framePlugin, boxLegend],
    });
}

const smooth = { smooth: true };
const dotted = { smooth: true, dotted: true };

// (a)
panel([43, 10, 370, 176], 36, {
    xr: [96.3, 250.9], xt: ticksTrajX_A, yr: [0, 12], yt: ticksTrajY, rev: true,
    xTitle: 'y (m)', yTitle: 'x (m)', legend: { loc: 'tr' },
    datasets: [traj('vehicle 953', K, trA953, 4, 4.5), traj('vehicle 959', B, trA959, 4, 4.5), traj('vehicle 950', C, trA950, 4, 4.5),
        traj('vehicle 945', R, trA945, 4, 4.5), traj('vehicle 966', Y, trA966, 4, 4.5), traj('vehicle 957', G, trA957, 4, 4.5)],
});
panel([457, 10, 221, 177], 34, {
    xr: [0, 9.0], xt: ticksTime8, yr: [8.53, 15.06], yt: ticksSpeedA,
    xTitle: 'Time (sec)', yTitle: 'Speed (m/s)', legend: { loc: 'bl', dx: -1 },
    datasets: [speed(R, noiseA_r, { ...dotted, label: 'Traffic data with noise' }), speed(R, simA_r, { ...smooth, label: 'Simulated data' }),
        speed(K, noiseA_k, dotted), speed(Y, noiseA_y, dotted), speed(G, noiseA_g, dotted), speed(B, noiseA_b, dotted), speed(C, noiseA_c, dotted),
        speed(K, simA_k, smooth), speed(Y, simA_y, smooth), speed(G, simA_g, smooth), speed(B, simA_b, smooth), speed(C, simA_c, smooth)],
});

// (b)
panel([742, 5, 365, 181], 39, {
    xr: [9.31, 26.05], xt: ticksScaledX_B, yr: [-0.062, 0.806], yt: ticksScaledY, yd: 1,
    xTitle: 'y (m)', yTitle: 'x (m)', legend: { loc: 'tr', dy: 4 },
    datasets: [traj('vehicle 953', K, trB953, 3.6), traj('vehicle 959', B, trB959, 3.6), traj('vehicle 950', C, trB950, 3.6),
        traj('vehicle 945', R, trB945, 3.6), traj('vehicle 966', Y, trB966, 3.6), traj('vehicle 957', G, trB957, 3.6)],
});
panel([1154, 5, 219, 182], 41, {
    xr: [-0.43, 8.89], xt: ticksTime8, yr: [0.877, 1.468], yt: ticksSpeedB, yd: 1,
    xTitle: 'Time (sec)', yTitle: 'Speed (m/s)', legend: { loc: 'tr' },
    datasets: [speed(B, spB959, { label: 'vehicle 959' }), speed(C, spB950, { label: 'vehicle 950' }), speed(R, spB945, { label: 'vehicle 945' }),
        speed(Y, spB966, { label: 'vehicle 966' }), speed(G, spB957, { label: 'vehicle 957' })],
});

// (c)
panel([43, 308, 370, 175], 36, {
    xr: [152.75, 245.25], xt: ticksTrajX_C, yr: [0, 12], yt: ticksTrajY, rev: true,
    xTitle: 'y (m)', yTitle: 'x (m)', legend: { loc: 'br', dx: 1 },
    datasets: [traj('vehicle 1054', K, trC1054, 4, 4.5), traj('vehicle 1053', B, trC1053, 4, 4.5), traj('vehicle 1049', C, trC1049, 4, 4.5),
        traj('vehicle 1061', R, trC1061, 4, 4.5), traj('vehicle 1058', Y, trC1058, 4, 4.5), traj('vehicle 1056', G, trC1056, 4, 4.5)],
});
panel([457, 308, 220, 175], 37, {
    xr: [0, 6.95], xt: ticksTime6, yr: [1.04, 11.56], yt: ticksSpeedC,
    xTitle: 'Time (sec)', yTitle: 'Speed (m/s)', legend: { loc: 'br', dy: 1 },
    datasets: [speed(R, noiseC_r, { ...dotted, label: 'Traffic data with noise' }), speed(R, simC_r, { ...smooth, label: 'Simulated data' }),
        speed(K, noiseC_k, dotted), speed(Y, noiseC_y, dotted), speed(G, noiseC_g, dotted), speed(B, noiseC_b, dotted), speed(C, noiseC_c, dotted),
        speed(K, simC_k, smooth), speed(Y, simC_y, smooth), speed(G, simC_g, smooth), speed(B, simC_b, smooth), speed(C, simC_c, smooth)],
});

// (d)
panel([743, 303, 364, 180], 40, {
    xr: [15.36, 24.69], xt: ticksScaledX_D, yr: [-0.037, 0.794], yt: ticksScaledY, yd: 1,
    xTitle: 'y (m)', yTitle: 'x (m)', legend: { loc: 'tr', dy: 3 },
    datasets: [traj('vehicle 953', K, trD953, 3.6), traj('vehicle 959', B, trD959, 3.6), traj('vehicle 950', C, trD950, 3.6),
        traj('vehicle 945', R, trD945, 3.6), traj('vehicle 966', Y, trD966, 3.6), traj('vehicle 957', G, trD957, 3.6)],
});
panel([1155, 304, 218, 180], 42, {
    xr: [-0.3, 7.06], xt: ticksTime6, yr: [0.118, 1.104], yt: ticksSpeedD, yd: 1,
    xTitle: 'Time (sec)', yTitle: 'Speed (m/s)', legend: { loc: 'br' },
    datasets: [speed(B, spD959, { label: 'vehicle 959' }), speed(C, spD950, { label: 'vehicle 950' }), speed(R, spD945, { label: 'vehicle 945' }),
        speed(Y, spD966, { label: 'vehicle 966' }), speed(G, spD957, { label: 'vehicle 957' })],
});

// (e)
panel([43, 605, 370, 177], 36, {
    xr: [101.6, 208.1], xt: ticksTrajX_E, yr: [0, 12], yt: ticksTrajY, rev: true,
    xTitle: 'y (m)', yTitle: 'x (m)', legend: { loc: 'cl', dx: 1 },
    datasets: [traj('vehicle 2610', K, trE2610, 4, 4.5), traj('vehicle 2603', B, trE2603, 4, 4.5), traj('vehicle 2608', C, trE2608, 4, 4.5),
        traj('vehicle 2605', R, trE2605, 4, 4.5), traj('vehicle 2621', Y, trE2621, 4, 4.5), traj('vehicle 2612', G, trE2612, 4, 4.5)],
});
panel([457, 604, 221, 178], 37, {
    xr: [-0.25, 5.28], xt: ticksTime5, yr: [7.08, 12.58], yt: ticksSpeedE,
    xTitle: 'Time (sec)', yTitle: 'Speed (m/s)', legend: { loc: 'br' },
    datasets: [speed(R, noiseE_r, { ...dotted, label: 'Traffic data with noise' }), speed(R, simE_r, { ...smooth, label: 'Simulated data' }),
        speed(K, noiseE_k, dotted), speed(Y, noiseE_y, dotted), speed(G, noiseE_g, dotted), speed(B, noiseE_b, dotted), speed(C, noiseE_c, dotted),
        speed(K, simE_k, smooth), speed(Y, simE_y, smooth), speed(G, simE_g, smooth), speed(B, simE_b, smooth), speed(C, simE_c, smooth)],
});

// (f)
panel([742, 601, 365, 181], 39, {
    xr: [10.75, 20.89], xt: ticksScaledX_F, yr: [-0.046, 0.789], yt: ticksScaledY, yd: 1,
    xTitle: 'y (m)', yTitle: 'x (m)', legend: { loc: 'bl', dx: 1 },
    datasets: [traj('vehicle 953', K, trF953, 3.6), traj('vehicle 959', B, trF959, 3.6), traj('vehicle 950', C, trF950, 3.6),
        traj('vehicle 945', R, trF945, 3.6), traj('vehicle 966', Y, trF966, 3.6), traj('vehicle 957', G, trF957, 3.6)],
});
panel([1154, 601, 219, 181], 41, {
    xr: [-0.24, 4.94], xt: ticksTime4, yr: [0.69, 1.263], yt: ticksSpeedF, yd: 1,
    xTitle: 'Time (sec)', yTitle: 'Speed (m/s)', legend: { loc: 'br' },
    datasets: [speed(B, spF959, { label: 'vehicle 959' }), speed(C, spF950, { label: 'vehicle 950' }), speed(R, spF945, { label: 'vehicle 945' }),
        speed(Y, spF966, { label: 'vehicle 966' }), speed(G, spF957, { label: 'vehicle 957' })],
});
</script>
</body>
</html>
